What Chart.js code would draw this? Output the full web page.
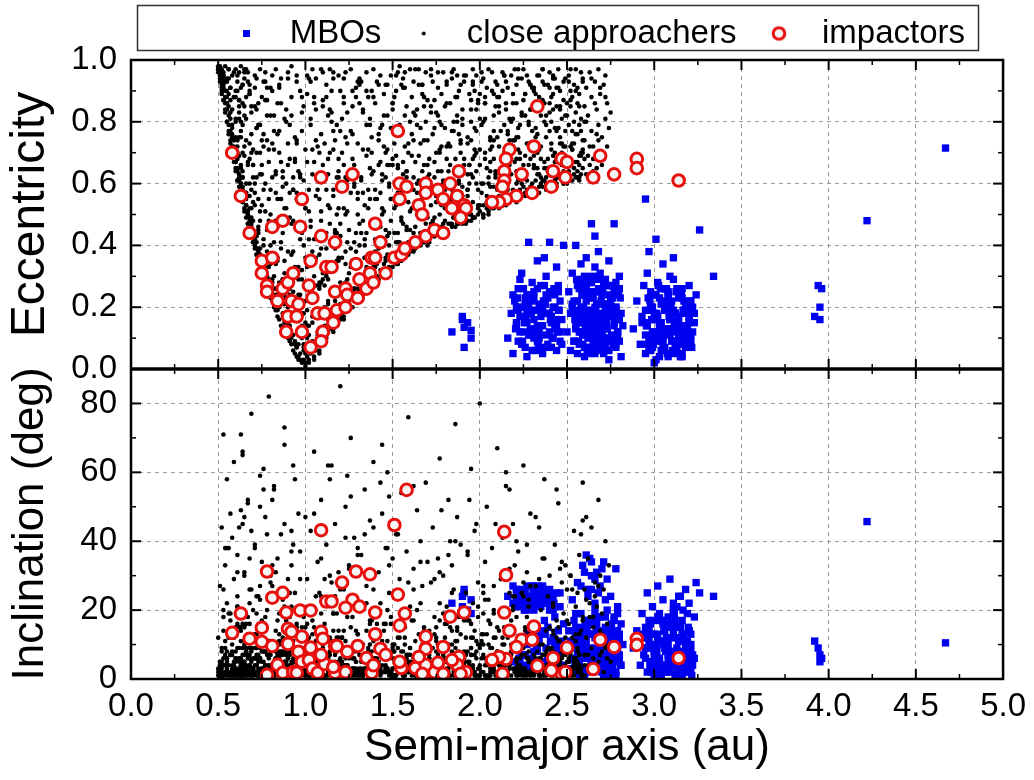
<!DOCTYPE html>
<html>
<head>
<meta charset="utf-8">
<script src="https://cdn.jsdelivr.net/npm/chart.js@4.4.1/dist/chart.umd.min.js"></script>
<style>
  html, body { margin: 0; padding: 0; background: #fff; }
  #wrap { width: 1034px; height: 780px; position: relative; }
</style>
</head>
<body>
<div id="wrap"><canvas id="myChart"></canvas></div>
<script>
/** Data: semi-major axis (au), eccentricity, inclination (deg) */

// main-belt objects
const mboA = [
  1.84,1.90,1.90,1.91,1.95,1.95,1.91,1.93,
  2.16,2.18,2.19,2.20,2.21,2.22,2.22,2.23,2.24,2.25,
  2.25,2.26,2.27,2.27,2.28,2.29,2.29,2.30,2.30,2.31,
  2.31,2.32,2.33,2.33,2.34,2.35,2.35,2.36,2.36,2.37,
  2.38,2.38,2.39,2.39,2.40,2.40,2.41,2.42,2.42,2.43,
  2.43,2.44,2.44,2.45,2.45,2.46,2.46,2.47,2.47,2.48,
  2.19,2.23,2.27,2.34,2.40,2.28,2.33,2.21,2.37,2.44,
  2.21,2.24,2.26,2.29,2.31,2.34,2.36,2.39,2.41,2.44,
  2.22,2.25,2.28,2.30,2.33,2.35,2.38,2.40,2.43,2.46,
  2.23,2.27,2.32,2.37,2.42,2.26,2.31,2.36,2.41,2.45,
  2.50,2.51,2.52,2.52,2.53,2.54,2.54,2.55,2.55,2.56,
  2.56,2.57,2.57,2.58,2.58,2.59,2.59,2.60,2.60,2.61,
  2.61,2.62,2.62,2.63,2.63,2.64,2.64,2.65,2.65,2.66,
  2.66,2.67,2.67,2.68,2.68,2.69,2.69,2.70,2.70,2.71,
  2.71,2.72,2.72,2.73,2.73,2.74,2.74,2.75,2.75,2.76,
  2.76,2.77,2.77,2.78,2.78,2.79,2.79,2.80,2.80,2.81,
  2.81,2.82,2.53,2.57,2.61,2.65,2.68,2.72,2.76,2.79,
  2.55,2.60,2.64,2.69,2.74,2.78,2.62,2.66,2.71,2.58,
  2.53,2.55,2.57,2.59,2.61,2.63,2.65,2.67,2.69,2.71,2.73,2.75,2.77,2.79,2.54,
  2.56,2.58,2.60,2.62,2.64,2.66,2.68,2.70,2.72,2.74,2.76,2.78,2.80,2.57,2.61,
  2.63,2.66,2.69,2.72,2.75,2.78,2.55,2.59,2.64,2.67,2.70,2.74,2.77,2.62,2.68,
  2.58,2.60,2.62,2.64,2.66,2.68,2.70,2.72,2.61,2.65,
  2.88,2.90,2.92,2.93,2.94,2.95,2.96,2.96,2.97,2.98,
  2.98,2.99,3.00,3.00,3.01,3.02,3.02,3.03,3.04,3.04,
  3.05,3.06,3.06,3.07,3.08,3.08,3.09,3.10,3.10,3.11,
  3.12,3.12,3.13,3.14,3.14,3.15,3.16,3.16,3.17,3.18,
  3.18,3.19,3.20,3.20,3.21,3.22,3.23,3.24,2.97,3.01,
  3.05,3.09,3.13,3.17,3.21,2.95,3.03,3.11,3.19,3.07,
  3.15,2.99,3.23,3.05,3.12,2.93,3.26,3.34,2.95,3.00,
  2.95,2.97,2.99,3.01,3.03,3.05,3.07,3.09,3.11,3.13,3.15,3.17,3.19,3.21,2.96,
  2.98,3.00,3.02,3.04,3.06,3.08,3.10,3.12,3.14,3.16,3.18,3.20,3.22,2.99,3.03,
  3.06,3.09,3.12,3.15,3.18,3.21,2.97,3.01,3.05,3.08,3.11,3.14,3.17,3.04,3.13,
  3.92,3.94,3.95,3.96,3.95,4.22,4.67,
  2.545,2.565,2.585,2.605,2.625,2.645,2.665,2.685,2.705,2.725,2.745,2.765,2.785,2.805,2.555,2.575,2.595,2.615,2.635,2.655,
  2.675,2.695,2.715,2.735,2.755,2.775,2.795,2.56,2.60,2.64,2.68,2.72,2.76,2.80,2.58,2.62,2.66,2.70,2.74,2.78,
  2.955,2.975,2.995,3.015,3.035,3.055,3.075,3.095,3.115,3.135,3.155,3.175,3.195,3.215,2.965,2.985,3.005,3.025,3.045,3.065,
  3.085,3.105,3.125,3.145,3.165,3.185,3.205,2.96,3.00,3.04,3.08,3.12,3.16,3.20,2.98,3.02,3.06,3.10,3.14,3.18,
  2.205,2.225,2.245,2.265,2.285,2.305,2.325,2.345,2.365,2.385,2.405,2.425,2.445,2.215,2.255,2.295,2.335,2.375,2.415,2.455
];
const mboE = [
  0.12,0.17,0.16,0.135,0.125,0.10,0.07,0.15,
  0.10,0.18,0.05,0.22,0.14,0.09,0.26,0.17,0.31,0.12,
  0.20,0.07,0.24,0.15,0.41,0.11,0.19,0.28,0.06,0.16,
  0.23,0.13,0.09,0.35,0.21,0.17,0.27,0.05,0.14,0.22,
  0.11,0.30,0.18,0.08,0.25,0.41,0.15,0.20,0.10,0.24,
  0.13,0.33,0.06,0.19,0.27,0.12,0.22,0.16,0.08,0.40,
  0.24,0.29,0.04,0.12,0.18,0.21,0.26,0.20,0.36,0.14,
  0.15,0.08,0.21,0.13,0.25,0.10,0.18,0.23,0.07,0.16,
  0.19,0.26,0.11,0.22,0.14,0.07,0.24,0.12,0.20,0.09,
  0.12,0.18,0.06,0.27,0.15,0.23,0.10,0.20,0.17,0.25,
  0.12,0.25,0.06,0.18,0.31,0.09,0.22,0.14,0.40,0.05,
  0.27,0.17,0.08,0.34,0.20,0.11,0.29,0.15,0.04,0.24,
  0.36,0.10,0.19,0.28,0.07,0.16,0.47,0.23,0.12,0.33,
  0.06,0.21,0.14,0.26,0.09,0.18,0.31,0.11,0.24,0.05,
  0.16,0.29,0.08,0.20,0.13,0.35,0.03,0.22,0.17,0.10,
  0.27,0.15,0.47,0.07,0.19,0.25,0.12,0.30,0.09,0.18,
  0.04,0.14,0.21,0.26,0.13,0.08,0.38,0.19,0.23,0.11,
  0.16,0.30,0.10,0.25,0.06,0.20,0.15,0.43,0.28,0.12,
  0.20,0.13,0.27,0.08,0.17,0.23,0.10,0.29,0.14,0.21,0.06,0.18,0.25,0.12,0.09,
  0.22,0.15,0.28,0.11,0.19,0.25,0.07,0.17,0.13,0.24,0.09,0.20,0.16,0.12,0.26,
  0.05,0.15,0.21,0.10,0.27,0.08,0.18,0.11,0.30,0.16,0.06,0.19,0.14,0.23,0.12,
  0.18,0.24,0.12,0.28,0.20,0.15,0.26,0.10,0.22,0.17,
  0.13,0.22,0.08,0.17,0.27,0.05,0.14,0.31,0.10,0.20,
  0.06,0.24,0.12,0.18,0.03,0.28,0.09,0.15,0.21,0.11,
  0.34,0.07,0.19,0.13,0.25,0.04,0.16,0.22,0.09,0.29,
  0.12,0.18,0.06,0.23,0.14,0.10,0.26,0.05,0.19,0.13,
  0.21,0.08,0.16,0.27,0.11,0.20,0.15,0.24,0.38,0.42,
  0.07,0.30,0.17,0.11,0.09,0.19,0.23,0.36,0.14,0.26,
  0.04,0.12,0.18,0.10,0.08,0.15,0.45,0.30,0.55,0.02,
  0.11,0.19,0.07,0.24,0.14,0.09,0.21,0.16,0.05,0.26,0.12,0.18,0.08,0.22,0.15,
  0.25,0.10,0.17,0.06,0.22,0.13,0.19,0.09,0.15,0.23,0.07,0.17,0.12,0.20,0.04,
  0.26,0.11,0.18,0.08,0.14,0.20,0.06,0.16,0.12,0.24,0.19,0.10,0.22,0.15,0.13,
  0.17,0.27,0.20,0.26,0.16,0.48,0.715,
  0.16,0.09,0.24,0.13,0.28,0.07,0.19,0.11,0.26,0.15,0.21,0.08,0.17,0.23,0.29,0.12,0.20,0.06,0.25,0.14,
  0.10,0.22,0.18,0.27,0.11,0.16,0.24,0.19,0.07,0.13,0.30,0.21,0.09,0.26,0.15,0.23,0.05,0.12,0.18,0.28,
  0.14,0.22,0.08,0.18,0.26,0.11,0.05,0.20,0.15,0.09,0.24,0.13,0.19,0.07,0.23,0.16,0.10,0.27,0.12,0.21,
  0.17,0.06,0.25,0.14,0.19,0.11,0.22,0.08,0.16,0.12,0.24,0.18,0.04,0.15,0.20,0.09,0.26,0.13,0.17,0.10,
  0.13,0.20,0.09,0.17,0.24,0.11,0.19,0.14,0.22,0.07,0.16,0.26,0.12,0.23,0.15,0.18,0.08,0.21,0.10,0.19
];
const mboI = [
  22,24,21,26,23,19,25,20,
  24,5,22,9,26,3,21,12,25,7,
  23,4,27,10,22,6,24,14,2,20,
  8,25,11,23,5,21,13,27,4,22,
  9,24,6,15,20,26,3,12,23,7,
  18,10,25,5,14,8,21,11,4,16,
  27,6,20,13,23,2,9,25,17,6,
  23,7,25,4,21,11,26,6,24,9,
  5,22,13,27,8,24,3,21,10,25,
  26,12,22,5,20,7,27,14,23,3,
  8,14,3,11,6,17,2,9,13,5,
  28,4,12,7,19,10,33,6,15,3,
  11,26,8,35,13,5,30,16,2,22,
  9,14,31,6,18,4,27,12,7,34,
  10,15,3,20,29,8,13,5,24,11,
  6,17,2,32,9,14,19,7,12,4,
  16,10,23,1,8,13,5,18,3,21,
  15,7,26,11,2,9,17,4,14,6,
  3,12,7,15,2,9,17,5,11,1,14,6,18,8,10,
  4,13,1,16,7,20,3,11,6,15,9,2,13,5,17,
  8,12,4,10,6,14,19,3,8,16,2,11,5,13,7,
  27,31,24,34,29,25,32,23,36,30,
  9,14,4,19,7,12,2,25,10,16,
  5,21,8,13,3,27,11,6,17,1,
  23,9,14,4,18,10,29,7,12,20,
  3,15,8,24,11,5,17,13,2,26,
  9,6,22,14,10,4,18,28,12,7,
  16,3,21,11,8,15,5,13,19,2,
  24,10,6,17,1,13,25,24,9,3,
  6,14,2,10,17,4,12,8,20,1,15,5,11,3,9,
  13,7,18,2,10,6,16,4,12,1,9,14,7,3,19,
  11,5,8,15,2,13,17,6,10,4,22,7,12,1,9,
  11,9,7,6,5,45.7,10.5,
  5,11,2,16,8,13,3,18,6,10,1,14,7,4,12,9,2,15,6,17,
  3,8,12,5,16,1,10,7,14,4,9,2,13,6,11,3,18,5,8,1,
  12,4,17,8,2,14,10,6,19,3,11,7,15,1,9,13,5,18,3,8,
  16,2,12,6,20,4,9,14,1,11,7,17,3,10,5,13,2,15,8,6,
  22,6,25,3,21,26,9,23,4,24,11,22,7,25,20,5,27,13,23,8
];

// close approachers
const caA = [
  0.50,0.50,0.51,0.51,0.51,0.52,0.52,0.52,0.53,0.53,0.53,0.54,0.54,0.54,0.55,0.55,0.55,0.56,0.56,0.56,
  0.57,0.57,0.57,0.58,0.58,0.58,0.59,0.59,0.59,0.60,0.60,0.60,0.61,0.61,0.61,0.62,0.62,0.63,0.63,0.63,
  0.64,0.64,0.65,0.65,0.66,0.66,0.67,0.67,0.68,0.68,0.69,0.69,0.70,0.70,0.71,0.71,0.72,0.72,0.64,0.68,
  0.73,0.73,0.74,0.74,0.75,0.75,0.76,0.76,0.77,0.77,0.78,0.78,0.79,0.80,0.80,0.81,0.82,0.83,0.84,0.84,
  0.85,0.86,0.87,0.88,0.89,0.90,0.91,0.92,0.93,0.94,0.95,0.96,0.97,0.98,0.99,1.00,1.00,0.95,0.91,0.88,
  1.02,1.05,1.08,1.12,1.16,1.20,1.25,1.30,1.36,1.42,1.48,1.55,1.62,1.70,1.78,1.86,1.95,2.05,2.15,2.28,
  0.60,0.61,0.61,0.62,0.62,0.63,0.63,0.64,0.64,0.65,0.65,0.66,0.66,0.67,0.67,0.68,0.68,0.69,0.69,0.70,
  0.70,0.71,0.71,0.72,0.72,0.73,0.73,0.74,0.74,0.75,0.75,0.76,0.76,0.77,0.77,0.78,0.78,0.79,0.79,0.80,
  0.80,0.81,0.81,0.82,0.82,0.83,0.83,0.84,0.84,0.85,0.85,0.86,0.86,0.87,0.87,0.88,0.88,0.89,0.89,0.90,
  0.90,0.91,0.91,0.92,0.92,0.93,0.93,0.94,0.94,0.95,0.95,0.96,0.96,0.97,0.97,0.98,0.98,0.99,0.99,1.00,
  1.00,1.01,1.01,1.02,1.02,1.03,1.03,1.04,1.04,1.05,1.05,1.06,1.06,1.07,1.07,1.08,1.08,1.09,1.09,1.10,
  1.10,1.11,1.11,1.12,1.12,1.13,1.13,1.14,1.14,1.15,1.15,1.16,1.16,1.17,1.17,1.18,1.18,1.19,1.19,1.20,
  1.20,1.21,1.21,1.22,1.22,1.23,1.23,1.24,1.24,1.25,1.25,1.26,1.26,1.27,1.27,1.28,1.28,1.29,1.29,1.30,
  1.30,1.31,1.31,1.32,1.32,1.33,1.33,1.34,1.34,1.35,1.35,1.36,1.36,1.37,1.37,1.38,1.38,1.39,1.39,1.40,
  1.40,1.41,1.41,1.42,1.42,1.43,1.43,1.44,1.44,1.45,1.45,1.46,1.46,1.47,1.47,1.48,1.48,1.49,1.49,1.50,
  1.50,1.51,1.51,1.52,1.52,1.53,1.53,1.54,1.54,1.55,1.55,1.56,1.56,1.57,1.57,1.58,1.58,1.59,1.59,1.60,
  1.60,1.61,1.61,1.62,1.62,1.63,1.63,1.64,1.64,1.65,1.65,1.66,1.66,1.67,1.67,1.68,1.68,1.69,1.69,1.70,
  1.70,1.71,1.71,1.72,1.72,1.73,1.73,1.74,1.74,1.75,1.75,1.76,1.76,1.77,1.77,1.78,1.78,1.79,1.79,1.80,
  1.80,1.81,1.81,1.82,1.82,1.83,1.83,1.84,1.84,1.85,1.85,1.86,1.86,1.87,1.87,1.88,1.88,1.89,1.89,1.90,
  1.90,1.91,1.91,1.92,1.92,1.93,1.93,1.94,1.94,1.95,1.95,1.96,1.96,1.97,1.97,1.98,1.98,1.99,1.99,2.00,
  2.00,2.01,2.01,2.02,2.02,2.03,2.03,2.04,2.04,2.05,2.05,2.06,2.06,2.07,2.07,2.08,2.08,2.09,2.09,2.10,
  2.10,2.11,2.11,2.12,2.12,2.13,2.13,2.14,2.14,2.15,2.15,2.16,2.16,2.17,2.17,2.18,2.18,2.19,2.19,2.20,
  2.20,2.21,2.21,2.22,2.22,2.23,2.23,2.24,2.24,2.25,2.25,2.26,2.26,2.27,2.27,2.28,2.28,2.29,2.29,2.30,
  2.30,2.31,2.31,2.32,2.32,2.33,2.33,2.34,2.34,2.35,2.35,2.36,2.36,2.37,2.37,2.38,2.38,2.39,2.39,2.40,
  2.40,2.41,2.41,2.42,2.42,2.43,2.43,2.44,2.44,2.45,2.45,2.46,2.46,2.47,2.47,2.48,2.48,2.49,2.49,2.50,
  2.50,2.51,2.51,2.52,2.52,2.53,2.53,2.54,2.54,2.55,2.55,2.56,2.56,2.57,2.57,2.58,2.58,2.59,2.59,2.60,
  2.60,2.61,2.61,2.62,2.62,2.63,2.63,2.64,2.64,2.65,2.65,2.66,2.66,2.67,2.67,2.68,2.68,2.69,2.69,2.70,
  2.70,2.71,2.71,2.72,2.72,2.73,2.73,2.74,2.62,2.66,2.70,2.64,2.68,2.72,2.61,2.65,2.69,2.63,2.67,2.75,
  0.50,0.51,0.50,0.52,0.51,0.53,0.52,0.51,0.54,0.53,0.52,0.55,0.54,0.53,0.56,0.55,0.54,0.57,0.56,0.55,
  0.58,0.57,0.59,0.58,0.60,0.59,0.61,0.60,0.62,0.61,0.63,0.62,0.64,0.63,0.65,0.64,0.66,0.65,0.67,0.66,
  0.68,0.67,0.69,0.68,0.70,0.69,0.71,0.70,0.72,0.71,0.73,0.72,0.74,0.73,0.75,0.76,0.77,0.78,0.79,0.80,
  0.52,0.53,0.55,0.56,0.57,0.58,0.59,0.60,0.61,0.62,0.54,0.56,0.58,0.60,0.62,0.64,0.66,0.68,0.63,0.65,
  0.83,0.86,0.88,0.91,0.93,0.94,0.96,0.97,0.99,1.01,1.02,1.03,1.04,1.06,1.07,1.09,1.11,1.13,1.15,1.18,
  0.82,0.85,0.87,0.90,0.92,0.95,0.98,1.00,1.01,1.03,1.05,1.08,1.10,1.12,1.14,1.16,1.19,1.21,1.23,1.25,
  0.84,0.89,0.90,0.93,0.96,0.98,0.99,1.00,1.02,1.04,1.06,1.08,1.09,1.11,1.13,1.15,1.17,1.20,1.22,1.24,
  0.64,0.61,0.67,0.62,0.69,0.65,0.60,0.68,0.63,0.66,0.70,0.61,0.67,0.64,0.69,0.62,0.66,0.68,0.65,0.63,
  0.73,0.71,0.78,0.75,0.70,0.77,0.72,0.79,0.74,0.76,0.71,0.78,0.73,0.80,0.75,0.72,0.77,0.74,0.79,0.76,
  0.83,0.81,0.88,0.85,0.80,0.87,0.82,0.89,0.84,0.86,0.90,0.81,0.87,0.83,0.89,0.85,0.82,0.88,0.84,0.86,
  0.93,0.91,0.98,0.95,0.90,0.97,0.92,0.99,0.94,0.96,1.00,0.91,0.97,0.93,0.99,0.95,0.92,0.98,0.94,0.96,
  1.03,1.01,1.08,1.05,1.00,1.07,1.02,1.09,1.04,1.06,1.10,1.01,1.07,1.03,1.09,1.05,1.02,1.08,1.04,1.06,
  1.13,1.11,1.18,1.15,1.10,1.17,1.12,1.19,1.14,1.16,1.20,1.11,1.17,1.13,1.19,1.15,1.12,1.18,1.14,1.16,
  1.23,1.21,1.28,1.25,1.20,1.27,1.22,1.29,1.24,1.26,1.30,1.21,1.27,1.23,1.29,1.25,1.22,1.28,1.24,1.26,
  1.33,1.31,1.38,1.35,1.30,1.37,1.32,1.39,1.34,1.36,1.40,1.31,1.37,1.33,1.39,1.35,1.32,1.38,1.34,1.36,
  1.43,1.41,1.48,1.45,1.40,1.47,1.42,1.49,1.44,1.46,1.50,1.41,1.47,1.43,1.49,1.45,1.42,1.48,1.44,1.46,
  1.53,1.51,1.58,1.55,1.50,1.57,1.52,1.59,1.54,1.56,1.60,1.51,1.57,1.53,1.59,1.55,1.52,1.58,1.54,1.56,
  1.63,1.61,1.68,1.65,1.60,1.67,1.62,1.69,1.64,1.66,1.70,1.61,1.67,1.63,1.69,1.65,1.62,1.68,1.64,1.66,
  1.73,1.71,1.78,1.75,1.70,1.77,1.72,1.79,1.74,1.76,1.80,1.71,1.77,1.73,1.79,1.75,1.72,1.78,1.74,1.76,
  1.83,1.81,1.88,1.85,1.80,1.87,1.82,1.89,1.84,1.86,1.90,1.81,1.87,1.83,1.89,1.85,1.82,1.88,1.84,1.86,
  1.93,1.91,1.98,1.95,1.90,1.97,1.92,1.99,1.94,1.96,2.00,1.91,1.97,1.93,1.99,1.95,1.92,1.98,1.94,1.96,
  2.03,2.01,2.08,2.05,2.00,2.07,2.02,2.09,2.04,2.06,2.10,2.01,2.07,2.03,2.09,2.05,2.02,2.08,2.04,2.06,
  2.13,2.11,2.18,2.15,2.10,2.17,2.12,2.19,2.14,2.16,2.20,2.11,2.17,2.13,2.19,2.15,2.12,2.18,2.14,2.16,
  2.23,2.21,2.28,2.25,2.20,2.27,2.22,2.29,2.24,2.26,2.30,2.21,2.27,2.23,2.29,2.25,2.22,2.28,2.24,2.26,
  2.33,2.31,2.38,2.35,2.30,2.37,2.32,2.39,2.34,2.36,2.40,2.31,2.37,2.33,2.39,2.35,2.32,2.38,2.34,2.36,
  2.43,2.41,2.48,2.45,2.40,2.47,2.42,2.49,2.44,2.46,2.50,2.41,2.47,2.43,2.49,2.45,2.42,2.48,2.44,2.46,
  2.53,2.51,2.58,2.55,2.50,2.57,2.52,2.59,2.54,2.56,2.60,2.51,2.57,2.53,2.59,2.55,2.52,2.58,2.54,2.56,
  1.27,1.33,1.39,1.44,1.50,1.57,1.63,1.68,1.74,1.81,1.88,1.93,1.99,2.08,2.13,2.21,2.26,2.34,2.44,2.52,
  1.22,1.29,1.36,1.41,1.47,1.53,1.59,1.66,1.71,1.77,1.84,1.90,1.96,2.02,2.11,2.17,2.31,2.38,2.48,2.57,
  0.57,1.12,2.34,0.83,1.68,0.96,2.05,1.41,0.72,1.87,2.51,1.23,0.64,1.55,2.19,1.02,0.91,1.79,2.42,1.34,
  0.88,1.47,2.27,0.61,1.95,1.08,2.58,0.77,1.63,2.12,0.99,1.29,2.46,0.69,1.84,1.17,2.01,0.54,1.38,2.22,
  1.05,0.74,2.38,1.59,0.93,2.08,1.26,0.66,1.91,2.55,1.44,0.81,1.73,2.29,1.14,0.59,1.98,1.36,0.86,2.17,
  0.70,1.21,2.44,1.52,0.97,2.03,0.79,1.66,2.31,1.10,0.63,1.89,2.53,1.31,0.90,1.76,2.14,0.56,1.48,2.40,
  1.16,0.84,2.20,1.70,1.01,2.49,0.68,1.40,1.93,0.95,2.36,1.25,0.75,1.81,2.10,1.53,0.62,2.59,1.07,1.62,
  0.52,1.33,2.26,0.89,1.58,2.45,1.11,0.73,1.99,1.43,2.06,0.98,1.85,0.60,1.19,2.33,1.74,0.82,2.56,1.28,
  0.94,1.64,2.16,0.71,1.37,2.52,1.04,1.90,0.58,2.28,1.50,0.87,1.20,2.43,1.78,0.66,2.00,1.13,0.80,1.56,
  1.09,0.76,2.39,1.46,0.92,2.11,1.72,0.65,1.27,2.57,1.97,0.85,1.39,2.24,0.53,1.61,1.03,2.47,1.82,0.97,
  0.78,1.54,2.32,1.18,0.62,2.04,1.42,0.95,1.80,2.50,1.00,1.67,0.69,2.18,1.32,0.83,2.41,1.12,1.94,0.57,
  1.24,0.91,2.09,1.57,0.74,2.35,1.06,1.86,0.64,2.54,1.35,0.99,1.71,2.23,0.87,1.15,2.44,1.49,0.72,1.97,
  0.60,1.19,2.48,1.75,0.88,2.13,1.30,0.97,1.63,2.30,0.70,1.45,2.02,1.08,0.80,1.88,2.40,1.56,0.93,2.21,
  1.02,0.67,2.26,1.51,0.84,2.57,1.14,1.78,0.55,2.07,1.38,0.95,1.92,2.45,1.22,0.76,1.66,2.15,1.05,0.63,
  0.86,1.60,2.37,1.10,0.73,1.96,1.33,2.52,0.90,1.84,1.17,0.59,2.19,1.47,0.99,1.70,2.33,0.81,1.27,2.05,
  1.13,0.77,2.42,1.64,0.96,2.11,1.41,0.68,1.89,2.59,1.04,1.55,2.25,0.85,1.21,1.81,0.58,2.49,1.36,0.92,
  0.71,1.28,2.00,1.58,0.89,2.36,1.08,1.74,0.61,2.21,1.45,0.98,1.93,2.55,1.18,0.80,1.62,2.30,1.01,1.40,
  0.53,1.16,2.47,1.69,0.94,2.17,1.31,0.75,1.85,2.40,1.07,1.52,0.66,2.03,1.25,0.88,1.96,2.58,1.43,1.11,
  0.82,1.35,2.28,1.77,0.69,2.09,1.19,1.60,0.91,2.50,1.90,1.03,0.57,2.14,1.48,0.78,1.72,2.37,1.13,0.96,
  1.06,0.63,2.22,1.44,0.87,2.43,1.29,1.83,0.74,2.06,1.57,0.97,1.24,2.53,1.68,0.84,2.12,1.37,0.55,1.98,
  0.90,1.50,2.34,1.14,0.79,1.87,1.34,2.56,0.65,2.19,1.00,1.75,0.86,2.02,1.20,1.65,2.46,0.72,1.42,1.09,
  0.56,1.23,2.41,1.53,0.98,2.16,1.10,1.80,0.68,2.29,1.46,0.93,1.95,2.60,1.17,0.76,1.67,2.08,1.30,0.83
];
const caE = [
  0.97,0.96,0.95,0.93,0.97,0.90,0.93,0.96,0.87,0.91,0.94,0.83,0.86,0.90,0.80,0.84,0.88,0.76,0.79,0.85,
  0.73,0.76,0.81,0.70,0.72,0.78,0.67,0.70,0.74,0.64,0.67,0.71,0.61,0.64,0.69,0.59,0.62,0.56,0.60,0.66,
  0.54,0.58,0.51,0.55,0.49,0.53,0.47,0.51,0.45,0.49,0.43,0.47,0.41,0.45,0.39,0.43,0.37,0.41,0.62,0.52,
  0.35,0.39,0.33,0.37,0.31,0.35,0.30,0.33,0.28,0.32,0.26,0.30,0.25,0.23,0.27,0.22,0.20,0.19,0.17,0.21,
  0.16,0.14,0.13,0.12,0.11,0.10,0.09,0.08,0.06,0.05,0.04,0.03,0.03,0.02,0.03,0.02,0.05,0.07,0.12,0.15,
  0.02,0.03,0.06,0.10,0.13,0.16,0.19,0.22,0.25,0.29,0.31,0.35,0.38,0.40,0.43,0.46,0.48,0.50,0.53,0.56,
  0.88,0.74,0.95,0.83,0.69,0.91,0.77,0.64,0.86,0.72,0.97,0.60,0.81,0.56,0.93,0.68,0.89,0.52,0.76,0.62,
  0.48,0.85,0.57,0.70,0.94,0.44,0.79,0.63,0.39,0.88,0.53,0.72,0.36,0.96,0.60,0.45,0.82,0.33,0.67,0.50,
  0.91,0.28,0.62,0.45,0.77,0.24,0.97,0.55,0.35,0.70,0.20,0.86,0.41,0.29,0.64,0.17,0.52,0.80,0.23,0.38,
  0.66,0.14,0.49,0.88,0.27,0.58,0.11,0.75,0.33,0.19,0.93,0.46,0.08,0.62,0.24,0.83,0.14,0.40,0.06,0.71,
  0.22,0.95,0.10,0.51,0.34,0.79,0.05,0.63,0.17,0.42,0.88,0.27,0.56,0.09,0.72,0.37,0.13,0.97,0.48,0.29,
  0.85,0.12,0.61,0.39,0.92,0.21,0.68,0.47,0.15,0.80,0.33,0.56,0.96,0.26,0.74,0.44,0.18,0.64,0.36,0.90,
  0.28,0.70,0.17,0.52,0.94,0.38,0.62,0.21,0.83,0.45,0.31,0.97,0.57,0.25,0.76,0.41,0.66,0.22,0.88,0.50,
  0.73,0.25,0.92,0.44,0.61,0.30,0.84,0.53,0.27,0.69,0.96,0.37,0.58,0.81,0.28,0.48,0.90,0.33,0.64,0.42,
  0.86,0.30,0.55,0.74,0.39,0.95,0.46,0.63,0.31,0.82,0.51,0.36,0.70,0.92,0.43,0.59,0.33,0.78,0.48,0.66,
  0.37,0.88,0.52,0.69,0.34,0.96,0.44,0.61,0.79,0.38,0.57,0.91,0.47,0.72,0.37,0.64,0.85,0.41,0.54,0.97,
  0.45,0.76,0.39,0.58,0.93,0.67,0.42,0.84,0.50,0.61,0.97,0.44,0.73,0.55,0.89,0.41,0.66,0.80,0.47,0.59,
  0.87,0.42,0.68,0.53,0.95,0.47,0.76,0.62,0.43,0.83,0.56,0.91,0.45,0.70,0.50,0.79,0.64,0.44,0.96,0.58,
  0.45,0.72,0.93,0.51,0.64,0.86,0.47,0.77,0.58,0.49,0.97,0.68,0.53,0.82,0.47,0.61,0.90,0.50,0.74,0.56,
  0.84,0.49,0.66,0.95,0.52,0.73,0.58,0.89,0.50,0.63,0.80,0.54,0.93,0.69,0.49,0.77,0.60,0.87,0.52,0.71,
  0.51,0.79,0.60,0.94,0.53,0.70,0.86,0.56,0.65,0.97,0.51,0.75,0.59,0.90,0.52,0.68,0.82,0.55,0.63,0.92,
  0.54,0.72,0.88,0.58,0.65,0.96,0.53,0.79,0.61,0.55,0.84,0.69,0.91,0.56,0.74,0.63,0.95,0.57,0.81,0.67,
  0.56,0.86,0.64,0.75,0.94,0.58,0.70,0.82,0.60,0.97,0.66,0.57,0.89,0.73,0.61,0.80,0.58,0.92,0.68,0.77,
  0.58,0.69,0.90,0.61,0.78,0.95,0.65,0.84,0.59,0.72,0.62,0.87,0.97,0.67,0.80,0.60,0.75,0.92,0.64,0.83,
  0.60,0.88,0.71,0.64,0.94,0.78,0.61,0.85,0.68,0.97,0.62,0.75,0.90,0.66,0.81,0.60,0.93,0.72,0.63,0.86,
  0.62,0.79,0.95,0.67,0.87,0.61,0.73,0.92,0.65,0.83,0.97,0.62,0.76,0.89,0.69,0.63,0.81,0.94,0.71,0.85,
  0.74,0.91,0.63,0.82,0.69,0.96,0.66,0.77,0.88,0.64,0.72,0.93,0.68,0.84,0.65,0.79,0.97,0.70,0.89,0.66,
  0.75,0.92,0.68,0.81,0.95,0.72,0.86,0.78,0.62,0.86,0.70,0.94,0.74,0.88,0.80,0.68,0.91,0.72,0.76,0.83,
  0.98,0.94,0.97,0.91,0.96,0.87,0.95,0.98,0.84,0.92,0.89,0.80,0.88,0.96,0.77,0.86,0.93,0.74,0.82,0.90,
  0.70,0.77,0.69,0.76,0.65,0.72,0.61,0.67,0.61,0.68,0.57,0.63,0.55,0.60,0.52,0.59,0.51,0.55,0.47,0.55,
  0.45,0.50,0.44,0.48,0.41,0.46,0.40,0.43,0.37,0.42,0.35,0.39,0.33,0.38,0.32,0.30,0.29,0.27,0.25,0.24,
  0.97,0.95,0.93,0.97,0.91,0.95,0.88,0.97,0.93,0.96,0.98,0.89,0.84,0.80,0.87,0.92,0.97,0.90,0.75,0.82,
  0.26,0.21,0.18,0.13,0.16,0.09,0.12,0.05,0.08,0.04,0.11,0.07,0.15,0.06,0.19,0.10,0.14,0.22,0.13,0.17,
  0.30,0.24,0.27,0.20,0.10,0.07,0.18,0.01,0.14,0.22,0.04,0.26,0.09,0.30,0.16,0.12,0.25,0.17,0.28,0.19,
  0.19,0.23,0.15,0.25,0.04,0.10,0.22,0.06,0.03,0.09,0.17,0.05,0.28,0.08,0.12,0.24,0.15,0.21,0.16,0.29,
  0.79,0.90,0.66,0.85,0.58,0.94,0.81,0.73,0.65,0.88,0.54,0.70,0.96,0.62,0.83,0.75,0.57,0.92,0.69,0.98,
  0.55,0.91,0.38,0.74,0.66,0.51,0.84,0.29,0.97,0.42,0.60,0.87,0.46,0.35,0.63,0.78,0.33,0.48,0.71,0.93,
  0.48,0.73,0.31,0.92,0.40,0.59,0.26,0.84,0.36,0.67,0.18,0.95,0.44,0.63,0.52,0.28,0.82,0.21,0.76,0.55,
  0.38,0.79,0.29,0.57,0.96,0.16,0.47,0.85,0.68,0.33,0.52,0.24,0.90,0.62,0.18,0.74,0.98,0.44,0.21,0.64,
  0.46,0.67,0.28,0.86,0.15,0.58,0.94,0.39,0.24,0.74,0.61,0.33,0.12,0.81,0.51,0.19,0.42,0.70,0.97,0.36,
  0.53,0.27,0.79,0.41,0.66,0.20,0.88,0.35,0.97,0.58,0.25,0.73,0.45,0.16,0.62,0.83,0.31,0.50,0.70,0.94,
  0.34,0.81,0.59,0.24,0.47,0.90,0.66,0.28,0.73,0.39,0.55,0.21,0.35,0.96,0.44,0.62,0.86,0.26,0.51,0.77,
  0.57,0.40,0.31,0.79,0.26,0.65,0.93,0.46,0.36,0.71,0.55,0.86,0.29,0.48,0.97,0.33,0.62,0.75,0.42,0.88,
  0.67,0.34,0.44,0.89,0.58,0.37,0.76,0.95,0.50,0.62,0.84,0.47,0.71,0.32,0.55,0.40,0.92,0.66,0.79,0.35,
  0.41,0.73,0.62,0.49,0.86,0.38,0.95,0.70,0.35,0.56,0.80,0.44,0.91,0.65,0.38,0.77,0.53,0.45,0.98,0.67,
  0.82,0.52,0.43,0.69,0.38,0.92,0.62,0.57,0.40,0.78,0.49,0.88,0.64,0.46,0.96,0.54,0.74,0.85,0.60,0.42,
  0.48,0.63,0.89,0.44,0.74,0.58,0.97,0.47,0.67,0.82,0.52,0.43,0.71,0.93,0.61,0.54,0.85,0.46,0.78,0.64,
  0.66,0.86,0.52,0.77,0.48,0.95,0.59,0.70,0.47,0.88,0.63,0.45,0.80,0.55,0.92,0.49,0.73,0.60,0.96,0.51,
  0.56,0.93,0.64,0.50,0.79,0.71,0.48,0.86,0.60,0.97,0.53,0.68,0.90,0.75,0.58,0.84,0.51,0.95,0.66,0.62,
  0.88,0.57,0.74,0.53,0.66,0.96,0.80,0.62,0.52,0.71,0.58,0.93,0.55,0.68,0.85,0.60,0.49,0.77,0.91,0.64,
  0.61,0.83,0.56,0.93,0.75,0.66,0.53,0.89,0.70,0.58,0.97,0.64,0.81,0.55,0.72,0.86,0.60,0.68,0.95,0.77,
  0.79,0.60,0.66,0.87,0.55,0.95,0.71,0.59,0.83,0.62,0.91,0.75,0.57,0.68,0.84,0.59,0.97,0.73,0.64,0.89,
  0.63,0.91,0.79,0.60,0.73,0.86,0.58,0.68,0.95,0.61,0.77,0.66,0.92,0.70,0.59,0.82,0.75,0.62,0.88,0.97,
  0.70,0.64,0.87,0.78,0.96,0.62,0.84,0.66,0.91,0.73,0.61,0.80,0.68,0.94,0.77,0.63,0.89,0.72,0.60,0.85,
  0.77,0.64,0.70,0.90,0.82,0.66,0.97,0.74,0.63,0.86,0.68,0.93,0.79,0.71,0.65,0.62,0.85,0.96,0.73,0.67,
  0.20,0.24,0.28,0.30,0.33,0.36,0.39,0.41,0.43,0.45,0.47,0.48,0.50,0.52,0.53,0.54,0.56,0.57,0.59,0.61,
  0.17,0.23,0.26,0.28,0.32,0.34,0.37,0.40,0.41,0.44,0.46,0.47,0.49,0.50,0.52,0.54,0.57,0.58,0.60,0.61,
  0.83,0.44,0.71,0.57,0.88,0.29,0.62,0.93,0.78,0.51,0.66,0.75,0.92,0.48,0.86,0.14,0.68,0.60,0.95,0.36,
  0.81,0.66,0.58,0.72,0.87,0.55,0.69,0.93,0.42,0.77,0.46,0.91,0.63,0.85,0.54,0.22,0.96,0.88,0.70,0.61,
  0.67,0.51,0.82,0.73,0.21,0.59,0.33,0.74,0.95,0.76,0.52,0.90,0.45,0.92,0.84,0.96,0.70,0.27,0.39,0.54,
  0.66,0.58,0.77,0.90,0.63,0.81,0.48,0.51,0.65,0.31,0.57,0.73,0.88,0.47,0.94,0.96,0.67,0.94,0.40,0.60,
  0.71,0.23,0.74,0.62,0.89,0.82,0.60,0.38,0.63,0.55,0.59,0.27,0.66,0.92,0.88,0.57,0.81,0.93,0.11,0.44,
  0.92,0.83,0.69,0.47,0.64,0.91,0.20,0.86,0.53,0.78,0.74,0.32,0.80,0.75,0.95,0.86,0.49,0.71,0.64,0.60,
  0.08,0.79,0.63,0.95,0.55,0.72,0.38,0.59,0.79,0.79,0.86,0.62,0.43,0.67,0.72,0.57,0.89,0.63,0.34,0.94,
  0.76,0.40,0.65,0.45,0.82,0.56,0.83,0.96,0.68,0.62,0.49,0.91,0.88,0.94,0.90,0.69,0.93,0.70,0.47,0.42,
  0.74,0.41,0.89,0.35,0.87,0.54,0.66,0.73,0.85,0.60,0.52,0.92,0.49,0.80,0.30,0.64,0.73,0.58,0.66,0.91,
  0.41,0.26,0.93,0.82,0.79,0.68,0.84,0.63,0.70,0.80,0.90,0.61,0.58,0.57,0.18,0.90,0.62,0.55,0.43,0.78,
  0.90,0.52,0.64,0.70,0.35,0.90,0.57,0.11,0.97,0.72,0.71,0.34,0.60,0.27,0.82,0.76,0.86,0.63,0.48,0.68,
  0.58,0.67,0.82,0.77,0.46,0.85,0.16,0.53,0.86,0.72,0.63,0.95,0.47,0.78,0.88,0.58,0.44,0.60,0.30,0.80,
  0.55,0.51,0.61,0.87,0.45,0.68,0.71,0.90,0.14,0.94,0.44,0.88,0.58,0.82,0.07,0.66,0.76,0.29,0.85,0.53,
  0.29,0.87,0.69,0.57,0.18,0.85,0.47,0.56,0.57,0.70,0.71,0.92,0.64,0.77,0.36,0.68,0.75,0.94,0.52,0.37,
  0.53,0.26,0.81,0.46,0.60,0.93,0.43,0.87,0.65,0.92,0.72,0.88,0.58,0.67,0.62,0.58,0.83,0.60,0.19,0.33,
  0.95,0.77,0.73,0.44,0.67,0.70,0.94,0.34,0.49,0.91,0.62,0.41,0.53,0.86,0.22,0.24,0.92,0.77,0.57,0.09,
  0.41,0.44,0.93,0.80,0.70,0.64,0.68,0.40,0.57,0.67,0.81,0.48,0.87,0.95,0.60,0.91,0.47,0.65,0.82,0.24,
  0.94,0.62,0.78,0.61,0.29,0.61,0.38,0.72,0.70,0.67,0.96,0.56,0.61,0.71,0.74,0.86,0.59,0.79,0.94,0.84,
  0.73,0.68,0.63,0.52,0.55,0.88,0.40,0.91,0.85,0.74,0.36,0.56,0.94,0.50,0.77,0.92,0.84,0.62,0.42,0.18,
  0.97,0.50,0.58,0.66,0.77,0.76,0.96,0.78,0.89,0.84,0.92,0.58,0.74,0.80,0.39,0.76,0.59,0.89,0.93,0.34
];
const caI = [
  3,12,1,27,5,44,8,2,18,71,4,9,33,1,22,6,58,2,14,38,
  7,2,19,41,1,10,5,29,63,3,15,8,36,2,24,6,1,49,11,4,
  2,16,5,31,8,1,52,13,4,26,9,77,3,20,6,39,1,11,45,7,
  5,1,23,9,34,2,14,61,4,18,7,42,3,28,10,1,55,6,17,2,
  1,8,3,21,5,13,2,37,6,1,16,4,29,9,2,47,11,3,25,68,
  4,2,11,6,19,1,32,8,3,14,53,5,26,2,9,40,7,17,1,23,
  6,21,2,44,9,3,15,65,1,30,7,12,4,51,18,2,35,8,26,3,
  1,13,38,4,7,24,2,59,10,5,17,31,3,47,8,1,20,82,6,11,
  3,9,27,1,56,14,6,35,2,19,8,42,4,12,23,73,5,1,16,29,
  8,2,18,33,5,11,62,1,25,7,14,3,48,9,37,2,21,6,4,15,
  2,5,29,12,1,43,8,17,3,66,10,24,6,1,34,13,4,52,19,7,
  9,1,16,4,39,22,6,2,58,11,28,3,14,7,45,1,19,5,31,85,
  4,12,2,26,7,50,1,18,9,33,3,15,70,6,23,2,41,10,5,13,
  1,7,20,3,36,10,5,55,2,14,27,8,4,46,17,1,30,11,63,6,
  5,2,13,31,8,1,22,48,4,16,9,38,3,11,60,6,25,2,18,35,
  3,10,1,24,6,42,15,2,29,8,54,4,19,12,1,37,7,76,5,21,
  7,1,17,5,32,11,3,49,20,2,13,6,40,9,27,1,15,4,57,10,
  2,14,6,28,1,9,44,4,18,12,3,35,7,64,22,5,10,1,30,16,
  6,3,21,10,52,1,15,8,33,4,26,2,11,47,7,19,3,39,13,1,
  1,8,4,25,12,2,36,17,5,61,9,3,22,14,43,6,1,28,10,80,
  4,11,2,19,7,34,1,13,50,6,23,3,16,9,38,2,27,5,12,67,
  8,2,14,5,29,1,41,10,3,20,56,7,12,4,32,1,17,9,45,24,
  2,6,18,1,37,11,4,25,9,62,3,15,7,31,1,21,13,48,5,10,
  5,1,12,27,3,16,8,44,2,20,6,35,10,1,58,14,4,24,9,30,
  3,9,1,22,14,5,39,2,17,7,51,11,4,28,6,19,1,33,12,26,
  1,5,16,8,30,2,12,43,6,21,3,25,9,36,4,14,2,57,18,7,
  4,12,23,7,35,2,18,9,44,6,15,28,3,21,11,52,5,30,14,8,
  19,2,26,10,40,6,16,33,4,24,13,3,27,9,47,18,7,22,12,5,
  2,5,1,9,3,14,0.5,4,7,26,1,3,11,6,2,38,4,17,1,8,
  4,1,12,3,6,2,21,5,1,9,3,15,7,2,47,4,1,10,6,2,
  1,7,3,16,2,5,9,1,24,4,2,13,6,3,1,55,8,2,11,4,
  3,1,6,19,2,8,4,1,31,5,2,12,7,3,1,66,9,4,14,2,
  5,2,8,1,13,3,6,2,20,4,1,9,3,7,2,35,1,11,5,3,
  2,6,1,10,4,3,15,1,7,2,5,25,3,1,8,4,12,2,41,6,
  1,4,9,2,6,3,18,1,5,2,11,7,3,29,1,4,8,2,14,59,
  3,1,7,2,12,5,1,22,4,8,2,16,3,1,43,6,2,9,4,71,
  2,6,1,14,3,4,9,1,27,5,2,11,7,1,3,19,4,50,2,8,
  5,1,3,10,2,7,1,17,4,2,6,33,1,8,3,13,2,45,5,1,
  1,4,2,8,6,1,21,3,5,12,2,7,1,39,4,15,3,2,58,9,
  4,2,11,1,5,3,8,24,2,6,1,16,3,9,2,48,1,5,13,7,
  2,7,1,4,15,3,6,1,30,2,9,4,1,12,5,62,3,8,2,19,
  6,1,3,9,2,18,4,1,7,2,36,5,1,11,3,23,2,8,4,53,
  1,3,8,2,13,1,5,26,3,7,2,10,4,1,44,6,2,17,3,9,
  3,5,1,7,2,20,4,1,11,3,6,2,38,8,1,14,5,2,68,4,
  2,1,6,3,10,4,1,28,2,8,5,1,15,3,7,2,42,4,12,1,
  5,2,4,1,9,3,17,2,6,1,34,4,8,2,13,1,56,3,7,22,
  1,6,3,11,2,4,1,19,5,2,8,3,31,1,7,15,2,49,4,10,
  4,1,8,2,5,14,3,1,25,6,2,10,1,40,3,7,2,18,5,74,
  2,5,1,12,3,7,1,21,4,2,9,6,1,37,3,16,2,8,52,4,
  6,2,3,1,10,4,27,2,5,1,8,13,3,1,45,6,2,19,4,9,
  1,4,7,2,15,3,1,9,5,2,33,1,6,12,3,60,2,8,4,20,
  3,1,5,9,2,18,4,1,7,3,11,2,39,6,1,24,3,8,2,14,
  2,7,1,4,13,3,6,2,29,1,9,5,2,16,4,1,47,3,10,7,
  4,2,9,1,6,3,21,2,12,5,1,8,34,3,2,15,1,7,55,4,
  1,5,3,11,2,7,1,17,4,2,26,6,3,9,1,13,2,42,5,8,
  3,1,6,2,9,4,1,14,2,5,3,8,1,20,4,2,11,6,3,30,
  2,5,1,8,3,12,2,4,1,17,6,3,2,10,1,25,4,7,2,13,
  2,7,1,4,11,3,0.5,6,2,15,5,1,9,3,24,2,8,1,13,42,
  1,3,6,2,9,4,1,14,2,7,3,21,5,1,10,2,6,38,4,12,
  4,1,8,2,5,12,1,3,17,6,2,9,1,27,4,3,11,2,7,55,
  3,2,5,1,13,4,7,1,2,10,6,19,3,1,8,2,15,4,33,5,
  1,6,3,9,2,4,1,12,5,2,7,23,3,16,1,6,2,46,8,4,
  5,1,2,7,3,11,4,1,18,2,6,9,1,3,14,2,29,5,8,1,
  2,4,1,6,10,3,1,5,13,2,8,1,26,4,2,16,3,62,7,1,
  3,1,9,2,4,6,1,15,3,7,2,11,5,1,20,2,4,8,36,1,
  1,5,2,12,3,1,8,4,2,17,6,1,3,10,2,31,4,7,1,48,
  4,2,6,1,14,3,2,9,5,1,22,4,7,2,11,1,3,16,6,2,
  2,1,7,3,5,10,2,4,1,13,6,2,25,3,8,1,5,18,2,40,
  6,3,1,8,2,4,12,1,5,2,19,3,7,1,9,2,34,4,15,1,
  1,4,2,6,11,3,1,7,2,14,5,1,21,3,8,2,4,52,6,10,
  3,2,8,1,5,4,16,2,6,1,9,3,28,2,12,5,1,7,4,43,
  2,6,1,4,9,3,1,13,2,5,7,1,17,4,2,30,6,3,11,1,
  4,1,3,10,2,6,1,8,3,15,2,5,1,23,7,3,12,2,57,4,
  1,2,6,4,12,1,3,9,2,5,18,1,7,3,2,11,4,35,6,2,
  5,1,4,2,8,3,14,1,6,2,10,4,1,26,3,7,2,16,1,45,
  2,3,1,7,4,11,2,5,1,20,3,8,2,13,6,1,32,4,9,2,
  1,4,2,9,3,5,1,12,6,2,16,3,7,1,24,2,10,4,38,3
];

// impactors
const impA = [
  0.58,1.53,0.63,1.09,1.27,1.21,0.98,0.68,0.81,0.87,
  0.97,1.09,1.17,1.40,1.43,0.75,0.75,0.81,0.78,0.78,
  0.84,0.87,0.90,0.92,0.96,0.93,0.90,0.95,0.89,0.98,
  1.03,1.03,1.02,1.04,1.12,1.15,1.07,1.11,1.10,1.09,
  1.17,1.23,1.24,1.18,1.23,1.16,1.29,1.31,1.35,1.30,
  1.38,1.40,1.37,1.39,1.46,1.51,1.55,1.57,1.63,1.69,
  1.74,1.79,1.54,1.58,1.54,1.69,1.69,1.65,1.67,1.88,
  1.83,1.87,1.84,1.91,1.92,1.89,2.33,2.31,2.17,2.15,
  2.14,2.14,2.13,2.24,2.42,2.47,2.50,2.49,2.41,2.30,
  2.21,2.15,2.11,2.07,2.69,2.65,2.77,2.90,2.90,3.14,
  1.76,1.79
];
const impE = [
  0.70,0.77,0.56,0.62,0.63,0.59,0.55,0.44,0.46,0.48,
  0.46,0.43,0.41,0.47,0.41,0.35,0.31,0.36,0.27,0.25,
  0.22,0.26,0.28,0.22,0.21,0.31,0.17,0.17,0.12,0.12,
  0.07,0.35,0.27,0.23,0.33,0.33,0.18,0.18,0.12,0.09,
  0.25,0.26,0.24,0.19,0.20,0.15,0.34,0.29,0.26,0.23,
  0.36,0.36,0.31,0.28,0.31,0.36,0.37,0.39,0.41,0.43,
  0.45,0.44,0.60,0.59,0.55,0.60,0.57,0.53,0.50,0.64,
  0.60,0.56,0.52,0.53,0.52,0.49,0.85,0.72,0.71,0.68,
  0.64,0.61,0.59,0.63,0.64,0.68,0.67,0.62,0.59,0.57,
  0.56,0.55,0.54,0.54,0.69,0.62,0.63,0.68,0.65,0.61,
  0.58,0.55
];
const impI = [
  13.4,24.5,19,43.2,23,28,12.3,11.7,23.6,25,
  19.9,13.7,9.6,19.3,8.8,14.9,10.8,9.6,31.2,1.2,
  4.1,1.8,14.6,13.7,7.9,2,10.2,1.8,19.3,5,
  19.9,9.1,5.5,3,22.5,22.5,1.8,4.4,11.7,7,
  1.8,20.7,7.9,9.6,2,3.5,31.2,21,6.1,9.6,
  1.8,13,30.4,4,7,44.7,3.2,19,3.2,8.8,
  2,9.3,15.5,54.9,5,12.3,4.1,6.4,1.5,6.4,
  18.1,4.1,5.5,19.3,2,1.5,3.8,15.2,14,30.2,
  19.3,42.7,1.5,11.4,6.1,1.5,9.1,2,2.5,11.4,
  9.3,5.8,6.4,5.5,11.4,2.9,9.3,11.7,9.9,6.1,
  4.7,1.5
];

/** Chart */

Chart.defaults.font.family = "'Liberation Sans', Arial, sans-serif";
Chart.defaults.color = "#000";

const blue = "#0000f0";
const red = "#e8100c";
const gridGrey = "#9a9a9a";

const pts = (xs, ys) => xs.map((v, k) => ({ x: v, y: ys[k] }));

function icon(w, h, draw) {
  const c = document.createElement("canvas");
  c.width = w;
  c.height = h;
  draw(c.getContext("2d"));
  return c;
}
const mboIcon = icon(7, 7, (g) => { g.fillStyle = blue; g.fillRect(0, 0, 7, 7); });
const caIcon = icon(5, 5, (g) => { g.fillStyle = "#000"; g.beginPath(); g.arc(2.5, 2.5, 2, 0, Math.PI * 2); g.fill(); });
const impIcon = icon(18, 18, (g) => {
  g.fillStyle = "#f5f5f5"; g.strokeStyle = red; g.lineWidth = 3;
  g.beginPath(); g.arc(9, 9, 5.8, 0, Math.PI * 2); g.fill(); g.stroke();
});

const mboStyle = { pointStyle: "rect", pointRadius: 5.2, backgroundColor: blue, borderColor: blue, borderWidth: 0, order: 3, clip: 0 };
const caStyle = { pointStyle: "circle", pointRadius: 2.3, backgroundColor: "#000", borderWidth: 0, order: 2, clip: 0 };
const impStyle = { pointStyle: "circle", pointRadius: 5.8, backgroundColor: "#f5f5f5", borderColor: red, borderWidth: 3, order: 1, clip: 0 };

// frame, inward ticks and the legend box
const panelFrame = {
  id: "panelFrame",
  afterLayout(chart) {
    chart.legend.left = 137;
    chart.legend.right = 981;
  },
  afterDatasetsDraw(chart) {
    const { ctx, chartArea: a, scales } = chart;
    const x = scales.x, yE = scales.yE, yI = scales.yI;
    const mid = yE.bottom;
    const seg = (x1, y1, x2, y2, w) => {
      ctx.lineWidth = w;
      ctx.beginPath();
      ctx.moveTo(x1, y1);
      ctx.lineTo(x2, y2);
      ctx.stroke();
    };
    ctx.save();
    ctx.strokeStyle = "#000";
    for (let k = 0; k <= 20; k++) {
      const px = x.getPixelForValue(k * 0.25);
      const len = k % 2 ? 5 : 10;
      const w = k % 2 ? 1.5 : 2;
      seg(px, a.top, px, a.top + len, w);
      seg(px, mid - len, px, mid + len, w);
      seg(px, a.bottom, px, a.bottom - len, w);
    }
    for (let k = 1; k < 10; k++) {
      const py = yE.getPixelForValue(k * 0.1);
      const len = k % 2 ? 5 : 10;
      const w = k % 2 ? 1.5 : 2;
      seg(a.left, py, a.left + len, py, w);
      seg(a.right, py, a.right - len, py, w);
    }
    for (let k = 1; k < 9; k++) {
      const py = yI.getPixelForValue(k * 10);
      const len = k % 2 ? 5 : 10;
      const w = k % 2 ? 1.5 : 2;
      seg(a.left, py, a.left + len, py, w);
      seg(a.right, py, a.right - len, py, w);
    }
    ctx.lineWidth = 2.5;
    ctx.strokeRect(a.left, a.top, a.right - a.left, a.bottom - a.top);
    seg(a.left, mid, a.right, mid, 3.5);
    ctx.restore();
  },
  afterDraw(chart) {
    const { ctx } = chart;
    const lg = chart.legend;
    ctx.save();
    ctx.strokeStyle = "#333";
    ctx.lineWidth = 1.5;
    ctx.strokeRect(137.5, lg.top + 4.5, 841, 45);
    ctx.restore();
  },
};

const canvas = document.getElementById("myChart");
const chart = new Chart(canvas.getContext("2d"), {
  type: "scatter",
  data: {
    datasets: [
      { label: "MBOs", data: pts(mboA, mboE), yAxisID: "yE", ...mboStyle },
      { label: "close approachers", data: pts(caA, caE), yAxisID: "yE", ...caStyle },
      { label: "impactors", data: pts(impA, impE), yAxisID: "yE", ...impStyle },
      { label: "MBOs", data: pts(mboA, mboI), yAxisID: "yI", ...mboStyle },
      { label: "close approachers", data: pts(caA, caI), yAxisID: "yI", ...caStyle },
      { label: "impactors", data: pts(impA, impI), yAxisID: "yI", ...impStyle },
    ],
  },
  options: {
    responsive: true,
    maintainAspectRatio: false,
    animation: false,
    events: [],
    layout: { padding: { top: 1, right: 28, left: 0, bottom: 0 } },
    plugins: {
      tooltip: { enabled: false },
      legend: {
        position: "top",
        align: "end",
        labels: {
          usePointStyle: true,
          pointStyleWidth: 53,
          padding: 16,
          color: "#000",
          font: { size: 33 },
          generateLabels: () => [
            { text: "MBOs", pointStyle: mboIcon, datasetIndex: 0, hidden: false, lineWidth: 0, fontColor: "#000" },
            { text: "close approachers", pointStyle: caIcon, datasetIndex: 1, hidden: false, lineWidth: 0, fontColor: "#000" },
            { text: "impactors", pointStyle: impIcon, datasetIndex: 2, hidden: false, lineWidth: 0, fontColor: "#000" },
          ],
        },
      },
    },
    scales: {
      x: {
        type: "linear",
        min: 0,
        max: 5,
        ticks: { stepSize: 0.5, autoSkip: false, maxRotation: 0, padding: 8, font: { size: 33 }, callback: (v) => v.toFixed(1) },
        grid: { color: gridGrey, lineWidth: 1, drawTicks: false },
        border: { display: false, dash: [4, 4] },
        title: { display: true, text: "Semi-major axis (au)", font: { size: 44 }, padding: { top: 0, bottom: 6 } },
        afterFit: (s) => { s.height = 101; },
      },
      yI: {
        type: "linear",
        position: "left",
        stack: "panels",
        stackWeight: 310,
        min: 0,
        max: 90,
        ticks: { stepSize: 20, includeBounds: false, autoSkip: false, padding: 14, font: { size: 33 } },
        grid: { color: gridGrey, lineWidth: 1, drawTicks: false },
        border: { display: false, dash: [4, 4] },
        title: { display: true, text: "Inclination (deg)", font: { size: 44 }, padding: { top: 4, bottom: 0 } },
        afterFit: (s) => { s.width = 131; },
      },
      yE: {
        type: "linear",
        position: "left",
        stack: "panels",
        stackWeight: 309,
        min: 0,
        max: 1,
        ticks: { stepSize: 0.2, autoSkip: false, padding: 14, font: { size: 33 }, callback: (v) => v.toFixed(1) },
        grid: { color: gridGrey, lineWidth: 1, drawTicks: false },
        border: { display: false, dash: [4, 4] },
        title: { display: true, text: "Eccentricity", font: { size: 48 }, padding: { top: 2, bottom: 0 } },
        afterFit: (s) => { s.width = 131; },
      },
    },
  },
  plugins: [panelFrame],
});
</script>
</body>
</html>
